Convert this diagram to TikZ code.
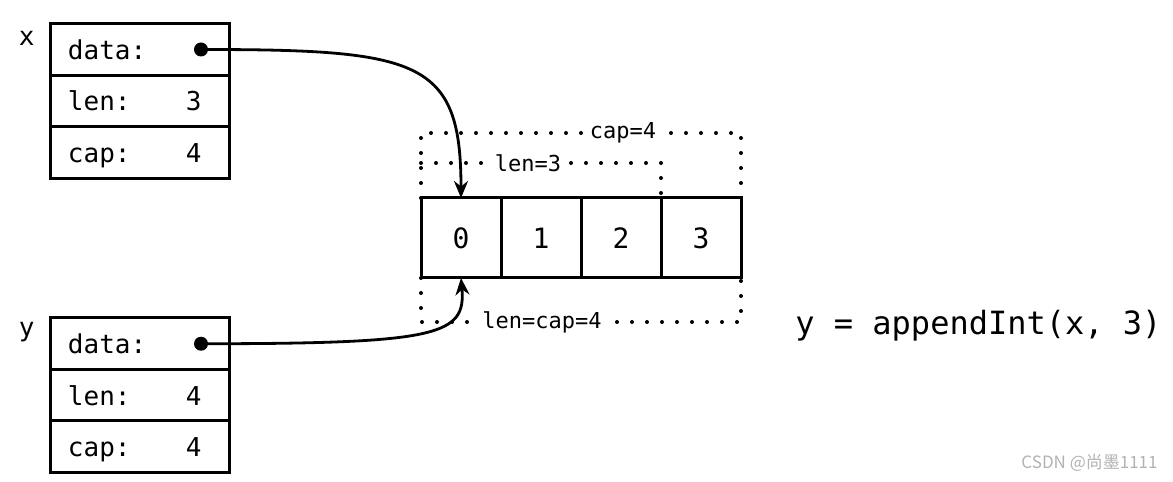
\documentclass[tikz,border=0pt]{standalone}
\usepackage{fontspec}
\setmonofont{DejaVu Sans Mono}
\newfontfamily\cjk{Noto Sans CJK SC}
\usepackage{tikz}
\usetikzlibrary{positioning}
\usetikzlibrary{arrows.meta}
\newcommand{\widthfield}{89.5pt}
\newcommand{\heightfield}{25.75pt}
\newcommand{\sizecell}{40pt}
\newcommand{\fieldrow}[2]{\makebox[59pt][l]{#1}#2}
\tikzset{
    common/.style={draw, rectangle, line width=1.5pt, outer sep=0pt},
    field/.style={common, minimum width=\widthfield, minimum height=\heightfield, text width=71.5pt,
        inner xsep=9pt, inner ysep=0pt, align=left, text height=10pt, text depth=0pt,
        font=\ttfamily\fontsize{13}{15}\selectfont},
    cell/.style={common, minimum size=\sizecell, inner sep=0pt, font=\ttfamily\fontsize{14}{16}\selectfont},
    varname/.style={anchor=north east, inner sep=0pt, font=\ttfamily\fontsize{13}{15}\selectfont},
    bracket/.style={line width=2pt, line cap=round, dash pattern=on 0pt off 7.5pt},
    bracketlabel/.style={fill=white, inner sep=2pt, font=\ttfamily\fontsize{11}{13}\selectfont},
    ptr/.style={line width=1.4pt, -{Stealth[length=8.5pt, width=7pt]}},
    ptrdot/.style={fill, circle, inner sep=0pt, minimum size=7pt},
    code/.style={inner sep=0pt, font=\ttfamily\fontsize{16}{19}\selectfont},
    wmark/.style={inner sep=0pt, text=gray!60, font=\cjk\fontsize{8.5}{10}\selectfont}
}

\begin{document}
\begin{tikzpicture}[x=0.5pt, y=0.5pt]
    \useasboundingbox (0,0) rectangle (1173,482);

    % slice header x
    \node[field] (xdata) at (139.5,432.5) {data:};
    \node[field, below=0pt of xdata] (xlen) {\fieldrow{len:}{3}};
    \node[field, below=0pt of xlen] (xcap) {\fieldrow{cap:}{4}};
    \node[varname] (xname) at ([xshift=-7.5pt, yshift=-3.5pt]xdata.north west) {x};
    \node[ptrdot] (xdot) at ([xshift=-14pt]xdata.east) {};

    % slice header y
    \node[field] (ydata) at (139.5,138.25) {data:};
    \node[field, below=0pt of ydata] (ylen) {\fieldrow{len:}{4}};
    \node[field, below=0pt of ylen] (ycap) {\fieldrow{cap:}{4}};
    \node[varname] (yname) at ([xshift=-7.5pt, yshift=-2pt]ydata.north west) {y};
    \node[ptrdot] (ydot) at ([xshift=-14pt]ydata.east) {};

    % underlying array
    \node[cell] (c0) at (461,244) {0};
    \foreach \i [count=\j from 0] in {1,2,3}
        \node[cell, right=0pt of c\j] (c\i) {\i};

    % len / cap brackets
    \draw[bracket] (c0.north west) -- ++(0,65) -| (c3.north east);
    \draw[bracket] ([yshift=17.5pt]c0.north west) -| (c2.north east);
    \draw[bracket] (c0.south west) -- ++(0,-44) -| (c3.south east);
    \node[bracketlabel] (caplabel) at ([xshift=101pt, yshift=32.5pt]c0.north west) {cap=4};
    \node[bracketlabel] (xlenlabel) at ([xshift=53.5pt, yshift=17.5pt]c0.north west) {len=3};
    \node[bracketlabel] (ylenlabel) at ([xshift=60.5pt, yshift=-22pt]c0.south west) {len=cap=4};

    % data pointers
    \draw[ptr] (xdot.center) .. controls +(219,0) and +(0,138) .. (c0.north);
    \draw[ptr] (ydot.center) .. controls +(239,0) and +(5,-57) .. (c0.south);

    \node[code, anchor=west] (call) at (795,156) {y = appendInt(x, 3)};
    \node[wmark, anchor=east] (mark) at (1158,19) {CSDN @尚墨1111};
\end{tikzpicture}
\end{document}
